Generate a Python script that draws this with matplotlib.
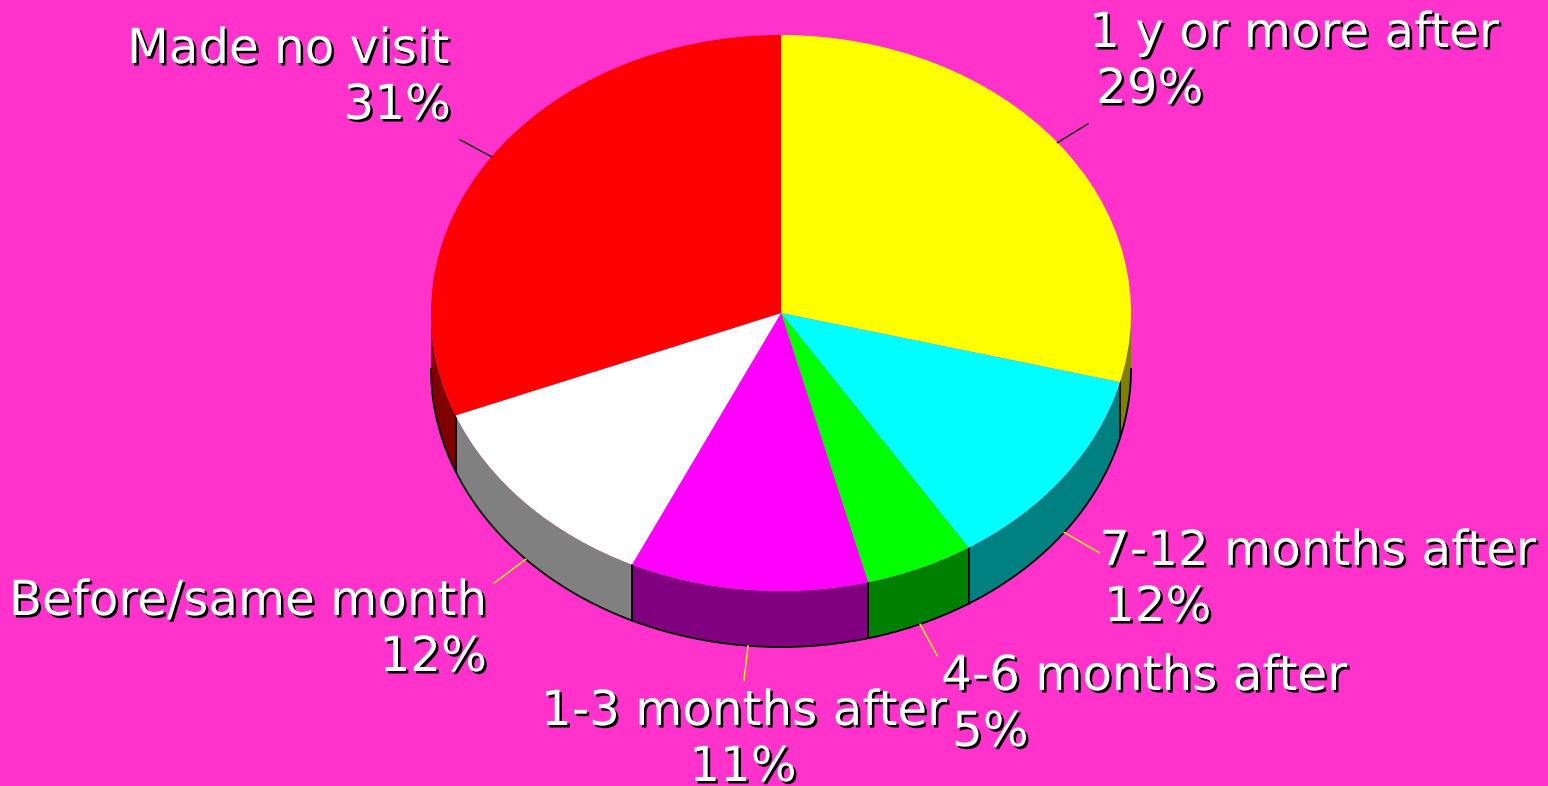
import matplotlib
matplotlib.use("Agg")
import matplotlib.pyplot as plt
import matplotlib.patheffects as pe
import numpy as np
from matplotlib.patches import Polygon

categories = ["1 y or more after", "7-12 months after", "4-6 months after",
              "1-3 months after", "Before/same month", "Made no visit"]
shares = [29, 12, 5, 11, 12, 31]
top_colors = ["#FFFF00", "#00FFFF", "#00FF00", "#FF00FF", "#FFFFFF", "#FF0000"]
side_colors = ["#808000", "#008080", "#008000", "#800080", "#808080", "#800000"]

BG = "#FF33CC"
W, H = 1548, 786
CX, CY = 781, 313      # pie centre in pixels
RX, RY = 350, 278      # ellipse radii in pixels
DEPTH = 56 / RY        # thickness of the pie, in data units


def px(x, y):
    """pixel position -> data coords (1 unit = one radius)"""
    return (x - CX) / RX, (CY - y) / RY


# label layout: (x, y of first baseline, alignment of name, x of pct, alignment of pct)
label_pos = {
    "1 y or more after": (1089, 47, "left", 1096, "left"),
    "7-12 months after": (1099, 565, "left", 1104, "left"),
    "4-6 months after": (941, 690, "left", 952, "left"),
    "1-3 months after": (744, 725, "center", 743, "center"),
    "Before/same month": (487, 615, "right", 487, "right"),
    "Made no visit": (449, 63, "right", 451, "right"),
}
LINE_GAP = 56
FS = 34.8

fig = plt.figure(figsize=(W / 100, H / 100), dpi=100, facecolor=BG)
ax = fig.add_axes([0, 0, 1, 1])
ax.set_facecolor(BG)

# top face
wedges, _ = ax.pie(shares, colors=top_colors, startangle=90, counterclock=False,
                   radius=1, center=(0, 0),
                   wedgeprops=dict(linewidth=0, zorder=3))

# side walls (front half only)
total = float(sum(shares))
bounds = 90 - 360 * np.concatenate([[0], np.cumsum(shares)]) / total
for i, col in enumerate(side_colors):
    hi = min(bounds[i], 0)
    lo = max(bounds[i + 1], -180)
    if lo >= hi:
        continue
    t = np.radians(np.linspace(lo, hi, 120))
    xs, ys = np.cos(t), np.sin(t)
    pts = np.column_stack([np.r_[xs, xs[::-1]], np.r_[ys, ys[::-1] - DEPTH]])
    ax.add_patch(Polygon(pts, closed=True, facecolor=col, edgecolor="none", zorder=1))

# outline of the wall: bottom rim and seams
t = np.radians(np.linspace(-180, 0, 300))
ax.plot(np.cos(t), np.sin(t) - DEPTH, color="black", lw=1.3, zorder=2)
for b in bounds:
    a = ((b + 180) % 360) - 180
    if -180 < a < 0:
        r = np.radians(a)
        ax.plot([np.cos(r)] * 2, [np.sin(r), np.sin(r) - DEPTH],
                color="black", lw=1.3, zorder=2)

# leader lines and labels
shadow = [pe.SimplePatchShadow(offset=(1.8, -1.8), shadow_rgbFace="black", alpha=1.0),
          pe.Normal()]
for i, name in enumerate(categories):
    mid = np.radians((bounds[i] + bounds[i + 1]) / 2)
    c, s = np.cos(mid), np.sin(mid)
    if s >= 0:
        ax.plot([c, 1.11 * c], [s, 1.11 * s], color="black", lw=1, zorder=4)
    else:
        ax.plot([c, 1.125 * c], [s - DEPTH, 1.125 * s - DEPTH],
                color="#FFFF00", lw=1, zorder=4)

    x1, y1, ha1, x2, ha2 = label_pos[name]
    ax.text(*px(x1, y1), name, ha=ha1, va="baseline", fontsize=FS,
            color="white", path_effects=shadow, zorder=5)
    ax.text(*px(x2, y1 + LINE_GAP), f"{shares[i]}%", ha=ha2, va="baseline",
            fontsize=FS, color="white", path_effects=shadow, zorder=5)

ax.set_aspect("auto")
ax.set_xlim(px(0, 0)[0], px(W, 0)[0])
ax.set_ylim(px(0, H)[1], px(0, 0)[1])
ax.axis("off")

fig.savefig("out.png", dpi=100, facecolor=BG)
